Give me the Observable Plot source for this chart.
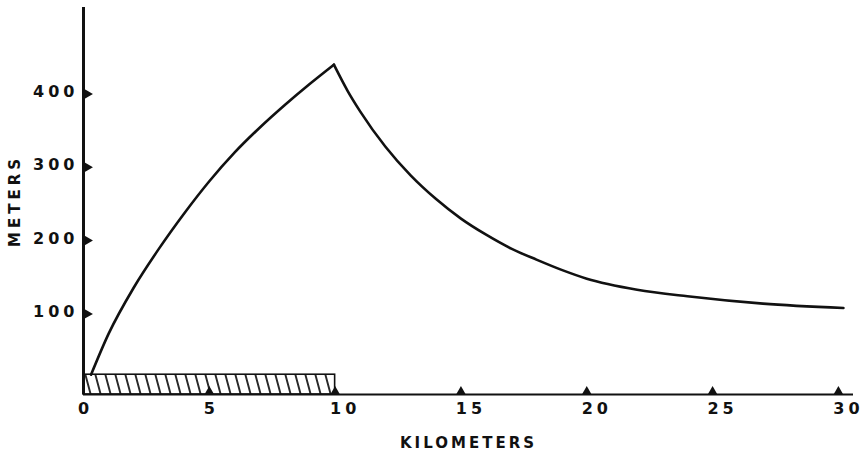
<!DOCTYPE html>
<html><head><meta charset="utf-8">
<script src="https://cdn.jsdelivr.net/npm/d3@7"></script>
<script src="https://cdn.jsdelivr.net/npm/@observablehq/plot@0.6"></script>
<style>
body{margin:0;background:#fff}
g[aria-label="x-axis label"] text{letter-spacing:3px;font-size:15px}
g[aria-label="y-axis label"] text{font-size:15px}
</style>
</head><body><div id="chart"></div>
<script>
// rising limb (over the city, 0–10 km)
const riseKm = [0.3, 1, 2, 3, 4, 5, 6, 7, 8, 9, 9.95];
const riseM  = [17, 73, 136, 189, 237, 281, 320, 354, 385, 414, 440];
// falling limb (downwind)
const fallKm = [9.95, 10.5, 11, 12, 13, 14, 15, 16, 17, 18, 19, 20, 22, 24, 27, 30.2];
const fallM  = [440, 404, 376, 328, 289, 257, 230, 208, 189, 174, 160, 148, 133, 124, 114, 108];
// hatched block (city)
const cityKm = [0, 10];
const cityM = [-10, 17];
const xTicks = [0, 5, 10, 15, 20, 25, 30];
const yTicks = [100, 200, 300, 400];

const curve = [
  ...riseKm.map((k, i) => ({km: k, m: riseM[i], seg: "rise"})),
  ...fallKm.map((k, i) => ({km: k, m: fallM[i], seg: "fall"}))
];
const city = [{x1: cityKm[0], x2: cityKm[1], y1: cityM[0], y2: cityM[1]}];

const chart = Plot.plot({
  width: 867, height: 458,
  marginLeft: 83, marginRight: 14, marginTop: 7, marginBottom: 64,
  x: {domain: [0, 30.6]},
  y: {domain: [-10, 518]},
  style: {fontFamily: "'DejaVu Sans', sans-serif", fontWeight: "bold", fontSize: "16px", color: "#111", background: "#fff", letterSpacing: "4px"},
  marks: [
    Plot.rect(city, {x1: "x1", x2: "x2", y1: "y1", y2: "y2", fill: "url(#hatch)", stroke: "#111", strokeWidth: 1.6}),
    Plot.ruleX([0], {stroke: "#111", strokeWidth: 3}),
    Plot.ruleY([-10], {stroke: "#111", strokeWidth: 2}),
    Plot.line(curve, {x: "km", y: "m", z: "seg", curve: "monotone-x", stroke: "#111", strokeWidth: 2.6}),
    Plot.dot(xTicks.filter(d => d > 0), {x: d => d, y: -10, symbol: "triangle", r: 3.5, fill: "#111", dy: -3}),
    Plot.dot(yTicks, {x: 0, y: d => d, symbol: "triangle", rotate: 90, r: 3.5, fill: "#111", dx: 4}),
    Plot.axisX(xTicks.filter(d => d < 10), {tickSize: 0, tickPadding: 8, tickFormat: d => String(d), label: null, dx: 2}),
    Plot.axisX(xTicks.filter(d => d >= 10), {tickSize: 0, tickPadding: 8, tickFormat: d => String(d), label: "KILOMETERS", labelAnchor: "center", labelArrow: "none", labelOffset: 53, dx: 10}),
    Plot.axisY({ticks: yTicks, tickSize: 0, tickPadding: 5, tickFormat: d => String(d), label: "METERS", labelAnchor: "center", labelArrow: "none", labelOffset: 74, dy: -2})
  ]
});

const NS = "http://www.w3.org/2000/svg";
const defs = document.createElementNS(NS, "defs");
const pat = document.createElementNS(NS, "pattern");
pat.setAttribute("id", "hatch");
pat.setAttribute("patternUnits", "userSpaceOnUse");
pat.setAttribute("width", "10");
pat.setAttribute("height", "10");
pat.setAttribute("patternTransform", "skewX(15)");
const ln = document.createElementNS(NS, "line");
ln.setAttribute("x1", "5"); ln.setAttribute("x2", "5");
ln.setAttribute("y1", "0"); ln.setAttribute("y2", "10");
ln.setAttribute("stroke", "#111"); ln.setAttribute("stroke-width", "1.8");
pat.appendChild(ln);
defs.appendChild(pat);
chart.insertBefore(defs, chart.firstChild);

document.getElementById("chart").appendChild(chart);
</script>
</body></html>
